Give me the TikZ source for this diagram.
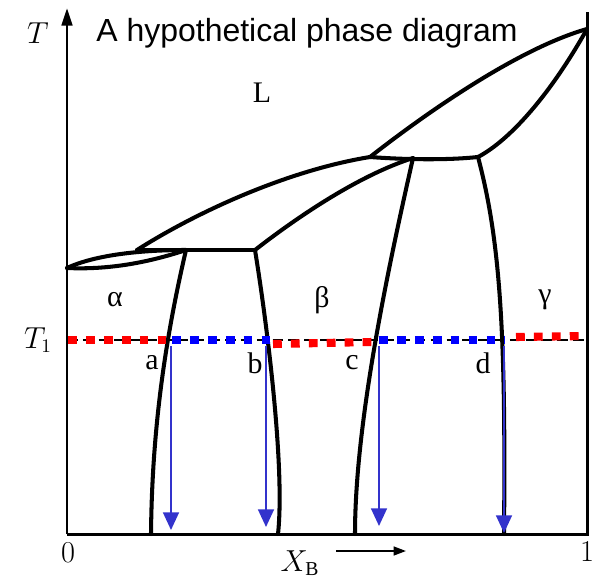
\documentclass[tikz,border=0pt]{standalone}
\usepackage{fontspec}
\setmainfont{Liberation Serif}
\newfontfamily\titlefont{Liberation Sans}
\usetikzlibrary{arrows.meta}
\definecolor{dropblue}{RGB}{51,51,204}

\begin{document}
\begin{tikzpicture}[
  x=0.02cm, y=-0.02cm,
  bnd/.style={line width=2.3pt, line cap=round, line join=round},
  axis/.style={line width=1.7pt},
  tieline/.style={line width=1.1pt, dash pattern=on 6pt off 3pt},
  tiered/.style={red, line width=4.6pt, dash pattern=on 5pt off 5.2pt},
  tieblue/.style={blue, line width=4.6pt, dash pattern=on 5pt off 5.2pt},
  drop/.style={draw=dropblue, line width=1.1pt, -{Triangle[length=10pt,width=9pt]}},
  lbl/.style={font=\fontsize{17}{20}\selectfont, inner sep=0pt},
  mlbl/.style={font=\fontsize{16}{19}\selectfont, inner sep=0pt}
]
\useasboundingbox (0,0) rectangle (601,581);
% Axes
\coordinate (O) at (67,534);
\coordinate (E) at (587,534);
\coordinate (Ttop) at (67,8);
\coordinate (Rtop) at (587,12);
\draw[axis, -{Triangle[length=10pt,width=6pt]}] (O) -- (Ttop);
\draw[axis] (O) -- (E) -- (Rtop);
\node[mlbl] (tlab) at (38,33) {$T$};
\node[mlbl] (t1lab) at (38,340) {$T_1$};
\node[mlbl] (zero) at (68,553) {$0$};
\node[mlbl] (one) at (587,552) {$1$};
\node[mlbl] (xb) at (300,563) {$X_{\mathrm{B}}$};
\coordinate (xa) at (336,551);
\coordinate (xe) at (406,551);
\draw[line width=1.1pt, -{Triangle[length=7pt,width=5pt]}] (xa) -- (xe);
\node[font=\titlefont\fontsize{18.2}{21}\selectfont, inner sep=0pt] (title) at (307,33)
  {A hypothetical phase diagram};
% Phase boundaries: alpha lens and first peritectic
\coordinate (lensL) at (67,268);
\coordinate (lensR) at (186,250);
\coordinate (perL) at (137,250);
\coordinate (perR) at (255,250);
\draw[bnd] (lensL) .. controls (95,255) and (140,250) .. (lensR);
\draw[bnd] (lensL) .. controls (110,270) and (150,262) .. (lensR);
\draw[bnd] (perL) -- (perR);
\draw[bnd] (lensR) .. controls (165,340) and (152,430) .. (151,534);
\draw[bnd] (perR) .. controls (268,330) and (285,470) .. (278,534);
% beta + L region and second peritectic
\coordinate (perL2) at (370,157);
\coordinate (perM2) at (413,158);
\coordinate (perR2) at (478,157);
\coordinate (top) at (587,29);
\draw[bnd] (perL) .. controls (200,210) and (290,170) .. (perL2);
\draw[bnd] (perR) .. controls (300,215) and (360,175) .. (perM2);
\draw[bnd] (perL2) .. controls (410,160) and (450,160) .. (perR2);
\draw[bnd] (perL2) .. controls (430,110) and (520,48) .. (top);
\draw[bnd] (perR2) .. controls (510,140) and (550,95) .. (top);
\draw[bnd] (perM2) .. controls (390,260) and (355,420) .. (355,534);
\draw[bnd] (perR2) .. controls (500,240) and (506,330) .. (504,534);
% Phase labels
\node[lbl] (liq) at (262,93) {L};
\node[lbl] (alpha) at (115,300) {α};
\node[lbl] (beta) at (322,300) {β};
\node[lbl] (gamma) at (545,300) {γ};
% Tie line at T1
\coordinate (tieL) at (67,340);
\coordinate (tieR) at (587,340);
\draw[tieline] (tieL) -- (tieR);
\draw[tiered] (68,340) -- (169,340);
\draw[tieblue] (172,340) -- (270,340);
\draw[tiered] (273,344) -- (372,342);
\draw[tieblue] (379,340) -- (505,340);
\draw[tiered] (516,337) -- (587,336);
\node[lbl] (a) at (152,363) {a};
\node[lbl] (b) at (255,363) {b};
\node[lbl] (c) at (352,363) {c};
\node[lbl] (d) at (483,363) {d};
% Drops to the composition axis
\coordinate (aT) at (171,346);
\coordinate (aB) at (171,530);
\coordinate (bT) at (266,346);
\coordinate (bB) at (266,527);
\coordinate (cT) at (379,346);
\coordinate (cB) at (379,526);
\coordinate (dT) at (504,346);
\coordinate (dB) at (504,533);
\draw[drop] (aT) -- (aB);
\draw[drop] (bT) -- (bB);
\draw[drop] (cT) -- (cB);
\draw[drop] (dT) -- (dB);
\end{tikzpicture}
\end{document}
